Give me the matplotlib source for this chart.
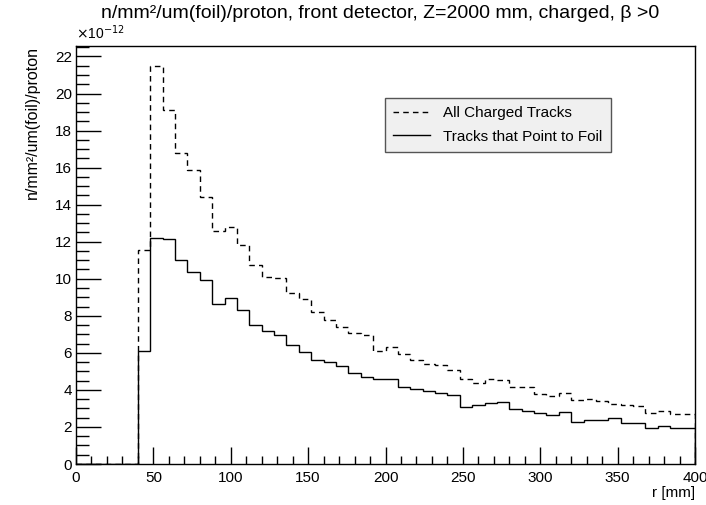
import numpy as np
import matplotlib
matplotlib.use('Agg')
import matplotlib.pyplot as plt
from matplotlib.ticker import MultipleLocator

plt.rcParams['font.family'] = ['Liberation Sans', 'DejaVu Sans']

# r binning [mm], 8 mm bins
edges = np.arange(0, 401, 8)

# flux in units of 1e-12 n/mm^2/um(foil)/proton
all_charged = [0, 0, 0, 0, 0,
               11.56, 21.49, 19.12, 16.79, 15.88, 14.43, 12.58, 12.78, 11.83, 10.75,
               10.07, 10.03, 9.23, 8.92, 8.21, 7.76, 7.38, 7.06, 6.97, 6.08,
               6.31, 5.95, 5.59, 5.38, 5.37, 5.05, 4.57, 4.37, 4.57, 4.55,
               4.17, 4.17, 3.76, 3.67, 3.85, 3.44, 3.49, 3.40, 3.23, 3.19,
               3.14, 2.78, 2.87, 2.72, 2.69]
point_to_foil = [0, 0, 0, 0, 0,
                 6.09, 12.19, 12.13, 11.02, 10.34, 9.95, 8.64, 8.96, 8.33, 7.49,
                 7.19, 6.94, 6.42, 6.06, 5.61, 5.52, 5.27, 4.93, 4.70, 4.57,
                 4.57, 4.16, 4.03, 3.94, 3.85, 3.73, 3.10, 3.17, 3.28, 3.37,
                 2.96, 2.87, 2.78, 2.65, 2.83, 2.29, 2.38, 2.38, 2.47, 2.24,
                 2.22, 1.97, 2.06, 1.97, 1.92]

fig = plt.figure(figsize=(7.06, 5.05), dpi=100)
ax = fig.add_axes([76/706, 1 - 464/505, (695 - 76)/706, (464 - 46)/505])

ax.stairs(all_charged, edges, color='black', lw=1.0, linestyle=(0, (4, 3)),
          label='All Charged Tracks')
ax.stairs(point_to_foil, edges, color='black', lw=1.0,
          label='Tracks that Point to Foil')

ax.set_xlim(0, 400)
ax.set_ylim(0, max(all_charged) * 1.05)

ax.xaxis.set_major_locator(MultipleLocator(50))
ax.xaxis.set_minor_locator(MultipleLocator(10))
ax.yaxis.set_major_locator(MultipleLocator(2))
ax.yaxis.set_minor_locator(MultipleLocator(0.5))
ax.tick_params(which='both', direction='in', top=False, right=False,
               labelsize=11, width=1.0)
ax.tick_params(axis='x', which='major', length=12, pad=5)
ax.tick_params(axis='x', which='minor', length=6)
ax.tick_params(axis='y', which='major', length=18, pad=3)
ax.tick_params(axis='y', which='minor', length=9)
for s in ax.spines.values():
    s.set_linewidth(1.0)

fig.text(76/706, 1 - 33/505, r'$\times$10$^{-12}$', fontsize=10, ha='left', va='center')
fig.text(380/706, 1 - 14/505, 'n/mm²/um(foil)/proton, front detector, Z=2000 mm, charged, β >0',
         fontsize=14, ha='center', va='center')
ax.set_xlabel('r [mm]', fontsize=11, ha='right', x=1.0, labelpad=1)
ax.set_ylabel('n/mm²/um(foil)/proton', fontsize=11.5, ha='right', y=1.0)
ax.yaxis.set_label_coords(-0.058, 1.0)

leg = ax.legend(loc='upper left', bbox_to_anchor=((385 - 76)/619, 1 - (98 - 46)/418),
                borderaxespad=0.0,
                frameon=True, fancybox=False, fontsize=11, handlelength=2.4,
                borderpad=0.55, labelspacing=0.6, handletextpad=0.85,
                edgecolor='#555555', facecolor='#f0f0f0', framealpha=1.0)
leg.get_frame().set_linewidth(1.0)

fig.savefig('out.png', dpi=100)
